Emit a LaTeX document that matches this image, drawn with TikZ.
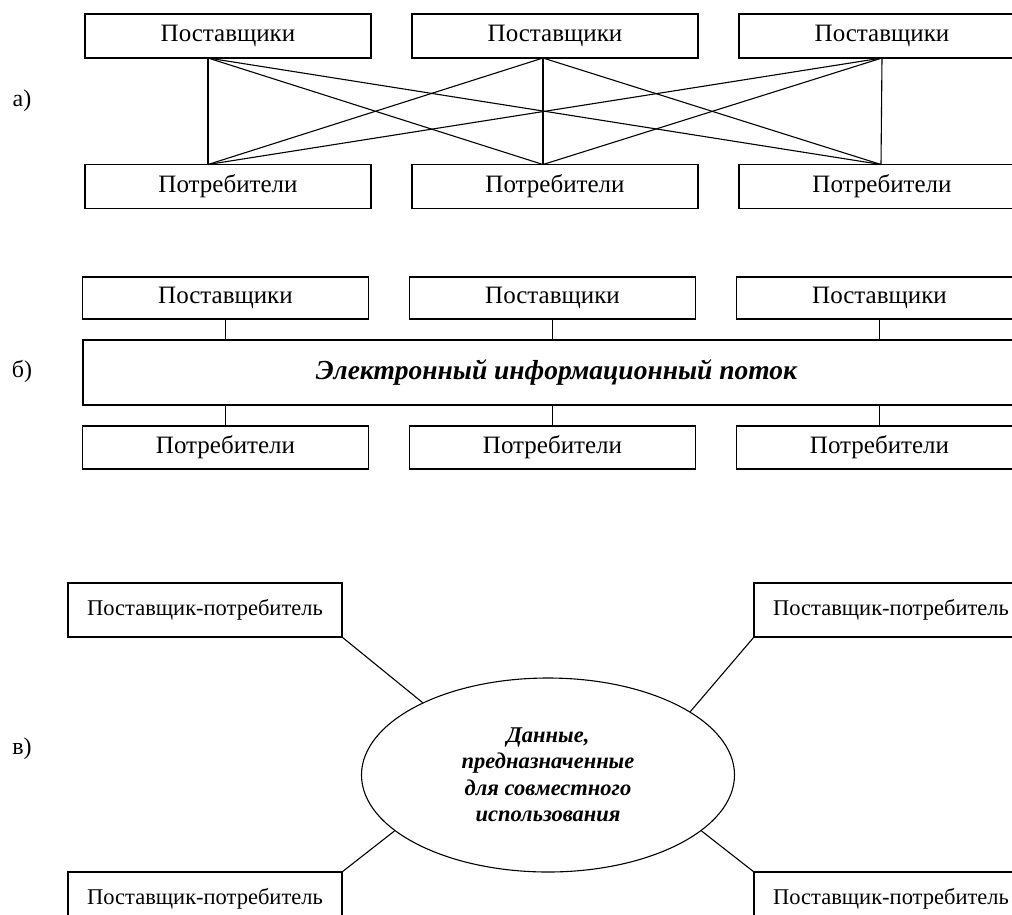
\documentclass[tikz,border=0pt]{standalone}
\usepackage{fontspec}
\setmainfont{Liberation Serif}
\usepackage{tikz}
\usetikzlibrary{positioning,shapes.geometric}

\begin{document}
\begin{tikzpicture}[x=1pt,y=-1pt,node distance=41pt,line width=1.1pt]
  \tikzstyle{box}=[draw,minimum width=286pt,minimum height=44pt,inner sep=0pt,outer sep=0pt,font=\fontsize{25}{30}\selectfont]
  \tikzstyle{pair}=[box,minimum width=274pt,minimum height=54pt,font=\fontsize{22.5}{27}\selectfont]
  \tikzstyle{lbl}=[inner sep=0pt,font=\fontsize{24}{28}\selectfont]
  \tikzstyle{bolditalic}=[inner sep=0pt,font=\fontsize{27.5}{33}\selectfont\bfseries\itshape]

  \useasboundingbox (0,0) rectangle (1012,914);
  \clip (0,0) rectangle (1012,914);

  % а) everyone with everyone
  \node[lbl] (la) at (22,101) {а)};
  \node[box]             (s1) at (228,36) {Поставщики};
  \node[box,right=of s1] (s2)             {Поставщики};
  \node[box,right=of s2] (s3)             {Поставщики};
  \node[box]             (c1) at (228,186.5) {Потребители};
  \node[box,right=of c1] (c2)                {Потребители};
  \node[box,right=of c2] (c3)                {Потребители};

  \coordinate (t1) at ([xshift=-20pt]s1.south);
  \coordinate (t2) at ([xshift=-12pt]s2.south);
  \coordinate (t3) at (s3.south);
  \coordinate (b1) at ([xshift=-20pt]c1.north);
  \coordinate (b2) at ([xshift=-12pt]c2.north);
  \coordinate (b3) at ([xshift=-1pt]c3.north);
  \foreach \i in {1,2,3}
    \foreach \j in {1,2,3}
      \draw (t\i) -- (b\j);

  % б) common flow
  \node[lbl] (lb) at (22,371) {б)};
  \node[box,minimum height=42pt]             (u1) at (225.5,298) {Поставщики};
  \node[box,minimum height=42pt,right=of u1] (u2)                {Поставщики};
  \node[box,minimum height=42pt,right=of u2] (u3)                {Поставщики};
  \node[draw,bolditalic,minimum width=947pt,minimum height=65pt] (flow) at (556.5,372.5)
    {Электронный информационный поток};
  \node[box,minimum height=43pt]             (v1) at (225.5,447.5) {Потребители};
  \node[box,minimum height=43pt,right=of v1] (v2)                  {Потребители};
  \node[box,minimum height=43pt,right=of v2] (v3)                  {Потребители};
  \foreach \n in {1,2,3} {
    \draw (u\n) -- (u\n |- flow.north);
    \draw (v\n) -- (v\n |- flow.south);
  }

  % в) shared data
  \node[lbl] (lc) at (22,749) {в)};
  \node[pair] (pl1) at (205,610) {Поставщик-потребитель};
  \node[pair] (pr1) at (891,610) {Поставщик-потребитель};
  \node[pair] (pl2) at (205,899) {Поставщик-потребитель};
  \node[pair] (pr2) at (891,899) {Поставщик-потребитель};
  \node[ellipse,draw,minimum width=373pt,minimum height=194pt,inner sep=0pt,align=center,
        font=\fontsize{22.5}{26.5}\selectfont\bfseries\itshape] (dat) at (548,775)
    {Данные,\\предназначенные\\для совместного\\использования};
  \draw (pl1.south east) -- (dat.150);
  \draw (pr1.south west) -- (dat.24);
  \draw (pl2.north east) -- (dat.200);
  \draw (pr2.north west) -- (dat.-20);
\end{tikzpicture}
\end{document}
